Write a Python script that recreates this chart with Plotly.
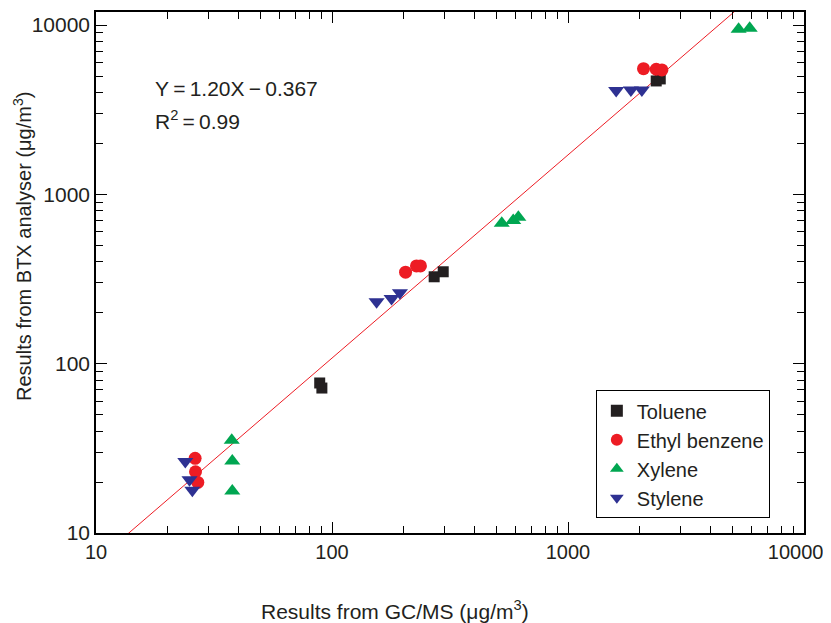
import numpy as np
import plotly.graph_objects as go

# Data (GC/MS result, BTX analyser result), ug/m3
toluene_x = [88.7, 90.6, 271, 296, 2365, 2460]
toluene_y = [76.9, 71.8, 326, 349, 4675, 4805]

ethyl_x = [26.3, 26.4, 27.0, 205, 228, 237, 2089, 2365, 2500]
ethyl_y = [27.6, 23.0, 19.9, 347, 378, 378, 5525, 5480, 5430]

xylene_x = [37.6, 37.8, 37.8, 524, 586, 616, 5284, 5886]
xylene_y = [35.3, 26.6, 17.7, 675, 700, 733, 9444, 9573]

stylene_x = [23.9, 24.9, 25.6, 154.5, 178.8, 194, 1600, 1847, 2056]
stylene_y = [26.4, 20.6, 17.9, 232, 243, 262, 4100, 4140, 4140]

# Regression (log-log) shown on the chart
fit_slope = 1.20
fit_intercept = -0.367
fit_x = [10, 10000]

major_vals = [10, 100, 1000, 10000]
major_text = ["10", "100", "1000", "10000"]

FONT = "Liberation Sans, Arial, sans-serif"
TXT = "#231f20"
BLACK = "#231f20"
RED = "#ed1c24"
GREEN = "#00a651"
NAVY = "#2e3192"
FS = 21

fit_y = [10 ** (fit_intercept + fit_slope * np.log10(v)) for v in fit_x]

minor_vals = [m * d for d in [10, 100, 1000] for m in range(2, 10)]

fig = go.Figure()
fig.add_trace(go.Scatter(x=fit_x, y=fit_y, mode="lines",
                         line=dict(color=RED, width=1), showlegend=False,
                         hoverinfo="skip"))
fig.add_trace(go.Scatter(x=toluene_x, y=toluene_y, mode="markers", name="Toluene",
                         marker=dict(symbol="square", size=11, color=BLACK)))
fig.add_trace(go.Scatter(x=ethyl_x, y=ethyl_y, mode="markers", name="Ethyl benzene",
                         marker=dict(symbol="circle", size=13, color=RED)))
fig.add_trace(go.Scatter(x=xylene_x, y=xylene_y, mode="markers", name="Xylene",
                         marker=dict(symbol="triangle-up", size=14, color=GREEN)))
fig.add_trace(go.Scatter(x=stylene_x, y=stylene_y, mode="markers", name="Stylene",
                         marker=dict(symbol="triangle-down", size=14, color=NAVY)))

axis_common = dict(
    type="log", showgrid=False, zeroline=False, automargin=False,
    showline=True, linecolor="black", linewidth=1.5, mirror="ticks",
    ticks="inside", ticklen=11, tickwidth=1, tickcolor="black",
    tickvals=major_vals, ticklabeloverflow="allow",
    minor=dict(ticks="inside", ticklen=7, tickwidth=1, tickcolor="black",
               tickvals=minor_vals),
)

# last x label padded with no-break spaces so its glyphs sit left of the page edge
x_text = major_text[:-1] + [major_text[-1] + "\u00a0" * 3]
fig.update_xaxes(range=[1, 4], ticktext=x_text,
                 tickfont=dict(family=FONT, size=20, color=TXT), **axis_common)
fig.update_yaxes(range=[1, 4.077], ticktext=major_text,
                 tickfont=dict(family=FONT, size=FS, color=TXT), **axis_common)

# The page body has an 8px margin; size the figure so the plot area lands
# on page pixels x 96..804, y 12..533.
OFF = 8
W, H = 831 - OFF, 623 - OFF
pl, pr, pt, pb = 96 - OFF, 804 - OFF, 12 - OFF, 533 - OFF

THIN = "\u2009"
fig.update_layout(
    width=W, height=H,
    margin=dict(l=pl, r=W - pr, t=pt, b=H - pb),
    plot_bgcolor="white", paper_bgcolor="white",
    font=dict(family=FONT, size=FS, color=TXT),
    legend=dict(x=0.706, y=0.274, xanchor="left", yanchor="top",
                bordercolor="black", borderwidth=1, bgcolor="white",
                font=dict(family=FONT, size=20, color=TXT),
                itemsizing="constant", tracegroupgap=0),
    annotations=[
        dict(text="Y" + THIN + "=" + THIN + "1.20X" + THIN + "\u2212" + THIN + "0.367",
             x=153, y=88,
             showarrow=False, xanchor="left", yanchor="middle",
             font=dict(family=FONT, size=FS, color=TXT)),
        dict(text="R<sup>2</sup>" + THIN + "=" + THIN + "0.99", x=153, y=120,
             showarrow=False, xanchor="left", yanchor="middle",
             font=dict(family=FONT, size=FS, color=TXT)),
        dict(text="Results from GC/MS (\u03bcg/m<sup>3</sup>)", x=395, y=610,
             showarrow=False, xanchor="center", yanchor="middle",
             font=dict(family=FONT, size=FS, color=TXT)),
        dict(text="Results from BTX analyser (\u03bcg/m<sup>3</sup>)", x=22, y=247,
             showarrow=False, xanchor="center", yanchor="middle", textangle=-90,
             font=dict(family=FONT, size=20, color=TXT)),
    ],
)

# convert page-pixel-placed annotations to paper coordinates
anns = list(fig.layout.annotations)
for a in anns:
    a.xref = "paper"
    a.yref = "paper"
    a.x = (a.x - OFF - pl) / (pr - pl)
    a.y = (pb - (a.y - OFF)) / (pb - pt)
fig.layout.annotations = anns

fig.write_html("out.html")
